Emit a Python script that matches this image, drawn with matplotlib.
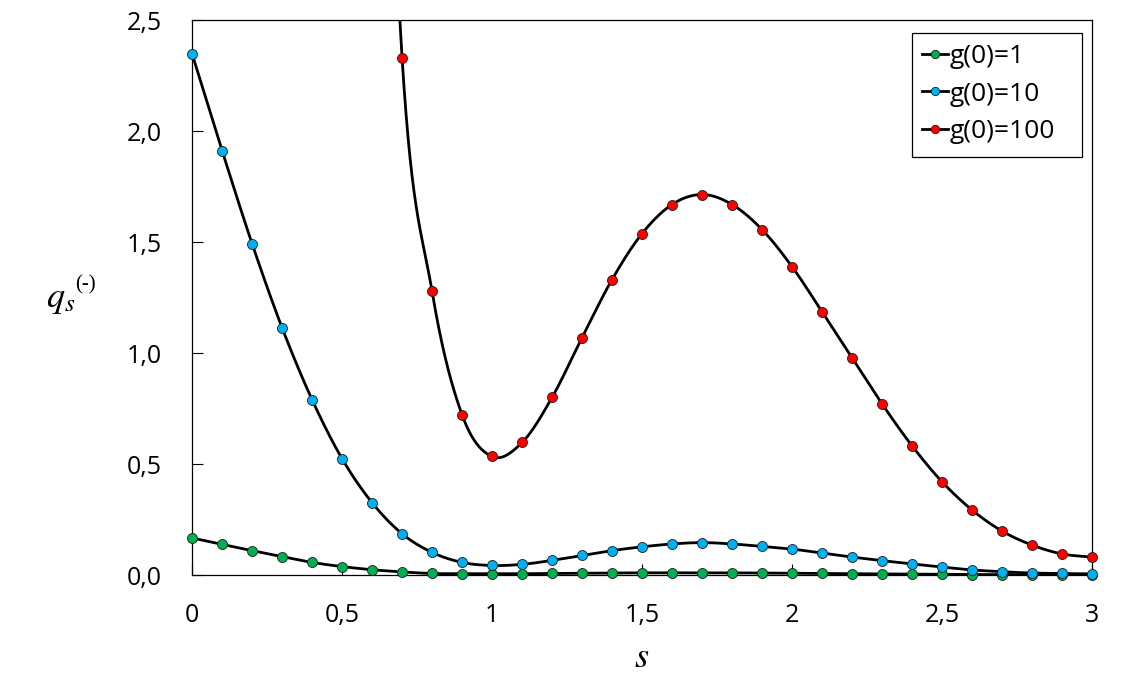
import numpy as np
import matplotlib
matplotlib.use("Agg")
import matplotlib.pyplot as plt
from matplotlib.lines import Line2D
from matplotlib.patches import Rectangle

plt.rcParams['font.family'] = ['Open Sans', 'DejaVu Sans']
plt.rcParams['mathtext.fontset'] = 'stix'

# s values for all series
s = [0.0, 0.1, 0.2, 0.3, 0.4, 0.5, 0.6, 0.7, 0.8, 0.9, 1.0,
     1.1, 1.2, 1.3, 1.4, 1.5, 1.6, 1.7, 1.8, 1.9, 2.0,
     2.1, 2.2, 2.3, 2.4, 2.5, 2.6, 2.7, 2.8, 2.9, 3.0]

q_g1 = [0.167, 0.138, 0.110, 0.083, 0.057, 0.038, 0.024, 0.014, 0.007, 0.006, 0.006,
        0.006, 0.007, 0.008, 0.009, 0.010, 0.010, 0.010, 0.010, 0.009, 0.008,
        0.007, 0.006, 0.005, 0.004, 0.003, 0.002, 0.002, 0.001, 0.001, 0.001]

q_g10 = [2.348, 1.912, 1.493, 1.114, 0.790, 0.524, 0.326, 0.186, 0.102, 0.057, 0.043,
         0.048, 0.066, 0.088, 0.110, 0.127, 0.140, 0.146, 0.140, 0.129, 0.117,
         0.099, 0.081, 0.065, 0.050, 0.036, 0.023, 0.015, 0.009, 0.007, 0.005]

# g(0)=100 goes off the top of the chart before s=0.7
s_g100 = [0.6, 0.7, 0.8, 0.9, 1.0,
          1.1, 1.2, 1.3, 1.4, 1.5, 1.6, 1.7, 1.8, 1.9, 2.0,
          2.1, 2.2, 2.3, 2.4, 2.5, 2.6, 2.7, 2.8, 2.9, 3.0]
q_g100 = [5.6, 2.331, 1.278, 0.722, 0.534,
          0.597, 0.800, 1.069, 1.331, 1.538, 1.669, 1.714, 1.669, 1.556, 1.389,
          1.186, 0.979, 0.771, 0.582, 0.420, 0.293, 0.198, 0.135, 0.095, 0.081]

labels = ['g(0)=1', 'g(0)=10', 'g(0)=100']
colors = ['#00B050', '#00B0F0', '#FF0000']

xticks = [0, 0.5, 1, 1.5, 2, 2.5, 3]
xticklabels = ['0', '0,5', '1', '1,5', '2', '2,5', '3']
yticks = [0, 0.5, 1.0, 1.5, 2.0, 2.5]
yticklabels = ['0,0', '0,5', '1,0', '1,5', '2,0', '2,5']


def smooth(x, y, n=30):
    # catmull-rom like excel "smoothed line"
    x = np.asarray(x, float)
    y = np.asarray(y, float)
    p = np.column_stack([x, y])
    p = np.vstack([p[0], p, p[-1]])
    out = []
    t = np.linspace(0, 1, n, endpoint=False)
    for i in range(1, len(p) - 2):
        p0, p1, p2, p3 = p[i - 1], p[i], p[i + 1], p[i + 2]
        m1 = (p2 - p0) / 2
        m2 = (p3 - p1) / 2
        h00 = 2*t**3 - 3*t**2 + 1
        h10 = t**3 - 2*t**2 + t
        h01 = -2*t**3 + 3*t**2
        h11 = t**3 - t**2
        seg = (h00[:, None]*p1 + h10[:, None]*m1 + h01[:, None]*p2 + h11[:, None]*m2)
        out.append(seg)
    out.append(p[-2][None, :])
    out = np.vstack(out)
    return out[:, 0], out[:, 1]


fig = plt.figure(figsize=(11.46, 6.88), dpi=100)
ax = fig.add_axes([0.1676, 0.1642, 0.7853, 0.8067])

series = [(s, q_g1), (s, q_g10), (s_g100, q_g100)]
handles = []
for (xs, ys), lab, col in zip(series, labels, colors):
    sx, sy = smooth(xs, ys)
    ax.plot(sx, sy, color='black', lw=2.0, zorder=2)
    xs_a = np.array(xs)
    ys_a = np.array(ys)
    keep = ys_a <= 2.5
    ax.plot(xs_a[keep], ys_a[keep], ls='none', marker='o', ms=7.2,
            mfc=col, mec='#1a1a1a', mew=0.6, clip_on=False, zorder=3)
    handles.append(Line2D([], [], color='black', lw=2.0, marker='o', ms=6,
                          mfc=col, mec='#1a1a1a', mew=0.6))

ax.set_xlim(0, 3)
ax.set_ylim(0, 2.5)
ax.set_xticks(xticks)
ax.set_xticklabels(xticklabels)
ax.set_yticks(yticks)
ax.set_yticklabels(yticklabels)
ax.tick_params(axis='both', direction='in', length=8, width=0.8,
               labelsize=18, colors='black')
ax.tick_params(axis='y', pad=22)
ax.tick_params(axis='x', pad=20)
for sp in ax.spines.values():
    sp.set_linewidth(0.9)

ax.set_xlabel(r'$s$', fontsize=26, labelpad=9)
ax.text(-0.13, 0.5, r'$q_s$', transform=ax.transAxes,
        fontsize=26, ha='right', va='center')
ax.text(-0.13, 0.505, '(-)', transform=ax.transAxes, family='Liberation Serif',
        fontsize=15, ha='left', va='bottom')

# legend box like excel: wide frame with the entries on the left
ax.add_patch(Rectangle((0.800, 0.753), 0.189, 0.224, transform=ax.transAxes,
                       fill=True, facecolor='white', edgecolor='black',
                       lw=0.9, zorder=4))
leg = ax.legend(handles, labels, loc='upper left', bbox_to_anchor=(0.811, 0.957),
                fontsize=19, frameon=False, handlelength=1.0, handletextpad=0.05,
                labelspacing=0.48, borderpad=0, borderaxespad=0)
leg.set_zorder(5)

fig.savefig('out.png', dpi=100)
